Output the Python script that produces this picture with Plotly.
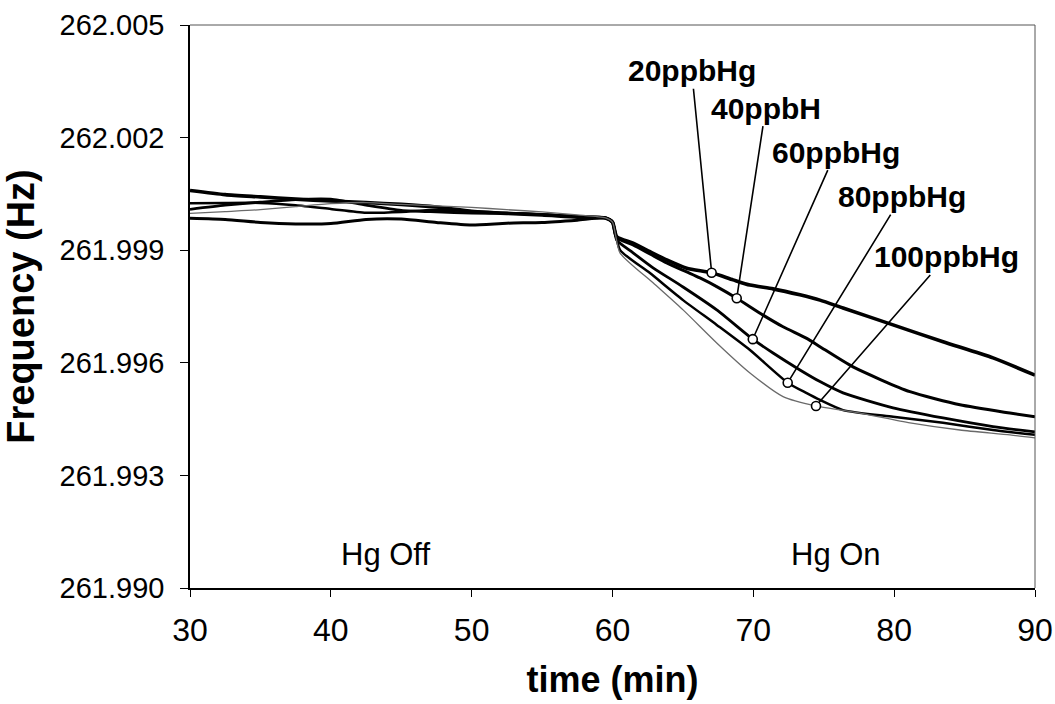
import plotly.graph_objects as go

# Shared time base for the baseline part of the run (Hg off), minutes
pre_time = [30, 32.5, 35, 37.5, 40, 42.5, 45, 47.5, 50, 52.5, 55, 57.5, 59.5, 60.0]

# Baseline frequency (Hz) for each concentration
hg20_pre = [262.00059, 262.00048, 262.00042, 262.00036, 262.00031, 262.00027, 262.00022,
            262.00015, 262.00004, 261.99998, 261.99994, 261.99988, 261.99986, 261.99975]
hg40_pre = [261.99985, 261.99982, 261.99974, 261.99970, 261.99971, 261.99982, 261.99983,
            261.99974, 261.99967, 261.99972, 261.99974, 261.99980, 261.99986, 261.99975]
hg60_pre = [262.00009, 262.00020, 262.00028, 262.00035, 262.00036, 262.00020, 262.00006,
            262.00002, 261.99999, 261.99998, 261.99995, 261.99990, 261.99986, 261.99975]
hg80_pre = [262.00025, 262.00026, 262.00026, 262.00020, 262.00010, 262.00000, 262.00002,
            262.00008, 262.00004, 261.99999, 261.99995, 261.99990, 261.99986, 261.99975]
hg100_pre = [261.99998, 262.00003, 262.00008, 262.00016, 262.00024, 262.00027, 262.00022,
             262.00018, 262.00014, 262.00008, 262.00002, 261.99994, 261.99986, 261.99975]

# Response after Hg is switched on
hg20_time = [60.30, 61.46, 62.66, 63.85, 65.27, 67.04, 68.56, 69.76, 71.40, 73.31, 74.73,
             76.37, 79.92, 83.47, 87.02, 90.0]
hg20_freq = [261.99936, 261.99919, 261.99896, 261.99874, 261.99852, 261.99840, 261.99821,
             261.99807, 261.99797, 261.99781, 261.99767, 261.99746, 261.99701, 261.99656,
             261.99613, 261.99567]

hg40_time = [60.30, 61.46, 62.66, 63.85, 65.27, 66.21, 67.40, 68.82, 70.69, 72.11, 73.79,
             74.73, 77.08, 81.12, 84.67, 88.22, 90.0]
hg40_freq = [261.99933, 261.99914, 261.99890, 261.99866, 261.99842, 261.99826, 261.99803,
             261.99772, 261.99727, 261.99696, 261.99665, 261.99643, 261.99589, 261.99523,
             261.99488, 261.99466, 261.99456]

hg60_time = [60.30, 61.46, 62.88, 65.01, 67.40, 69.96, 71.40, 73.31, 74.73, 76.37, 79.92,
             83.47, 87.02, 90.0]
hg60_freq = [261.99927, 261.99893, 261.99853, 261.99802, 261.99741, 261.99663, 261.99626,
             261.99581, 261.99550, 261.99520, 261.99480, 261.99453, 261.99430, 261.99416]

hg80_time = [60.53, 62.66, 65.01, 67.40, 69.76, 72.44, 73.79, 74.73, 76.37, 79.92, 83.47,
             87.02, 90.0]
hg80_freq = [261.99901, 261.99839, 261.99767, 261.99701, 261.99634, 261.99547, 261.99519,
             261.99501, 261.99474, 261.99456, 261.99440, 261.99421, 261.99408]

hg100_time = [60.53, 62.88, 65.01, 67.40, 69.76, 72.11, 74.45, 77.57, 81.12, 84.67, 88.22, 90.0]
hg100_freq = [261.99893, 261.99813, 261.99741, 261.99653, 261.99573, 261.99510, 261.99485,
              261.99466, 261.99440, 261.99421, 261.99408, 261.99400]

# Labelled points on each curve
label_text = ["20ppbHg", "40ppbH", "60ppbHg", "80ppbHg", "100ppbHg"]
label_time = [67.04, 68.82, 69.96, 72.44, 74.45]
label_freq = [261.99840, 261.99772, 261.99663, 261.99547, 261.99485]

y_ticks = [261.990, 261.993, 261.996, 261.999, 262.002, 262.005]
x_ticks = [30, 40, 50, 60, 70, 80, 90]

FONT = "Liberation Sans, Arial, sans-serif"

series = [
    (hg20_pre, hg20_time, hg20_freq, "black", 3.6),
    (hg40_pre, hg40_time, hg40_freq, "black", 3.0),
    (hg60_pre, hg60_time, hg60_freq, "black", 2.8),
    (hg80_pre, hg80_time, hg80_freq, "black", 2.5),
    (hg100_pre, hg100_time, hg100_freq, "#6a6a6a", 1.3),
]

fig = go.Figure()
for pre, t_on, f_on, color, width in series:
    fig.add_trace(go.Scatter(
        x=pre_time + t_on, y=pre + f_on, mode="lines",
        line=dict(color=color, width=width, shape="spline", smoothing=0.6),
        showlegend=False, hoverinfo="skip"))

fig.add_trace(go.Scatter(
    x=label_time, y=label_freq, mode="markers",
    marker=dict(symbol="circle", size=9, color="white", line=dict(color="black", width=1.6)),
    showlegend=False, hoverinfo="skip"))

# Leader lines from the labels down to the marked points (pixel offsets of the text)
offsets = [(-20, -202), (29, -190), (83, -187), (114, -186), (130, -149)]
for txt, t, f, (ax, ay) in zip(label_text, label_time, label_freq, offsets):
    fig.add_annotation(
        x=t, y=f, text="<b>%s</b>" % txt, showarrow=True, arrowhead=0, arrowwidth=1.6,
        arrowcolor="black", ax=ax, ay=ay, standoff=4.5,
        font=dict(family=FONT, size=30, color="black"))

fig.add_annotation(x=43.9, y=261.9909, text="Hg Off", showarrow=False,
                   font=dict(family=FONT, size=31, color="black"))
fig.add_annotation(x=75.9, y=261.9909, text="Hg On", showarrow=False,
                   font=dict(family=FONT, size=31, color="black"))

# Thin top/right frame
fig.add_shape(type="line", xref="paper", yref="paper", x0=0, y0=1, x1=1, y1=1,
              line=dict(color="#555555", width=1))
fig.add_shape(type="line", xref="paper", yref="paper", x0=1, y0=0, x1=1, y1=1,
              line=dict(color="#555555", width=1))

fig.update_xaxes(
    range=[30, 90], tickvals=x_ticks, showline=True, linecolor="black", linewidth=1.5,
    ticks="outside", ticklen=7, tickcolor="black", tickwidth=1, showgrid=False, zeroline=False,
    ticklabelstandoff=6, automargin=False,
    tickfont=dict(family=FONT, size=32, color="black"),
    title=dict(text="<b>time (min)</b>", standoff=20,
               font=dict(family=FONT, size=36, color="black")))
fig.update_yaxes(
    range=[261.990, 262.005], tickvals=y_ticks, tickformat=".3f", showline=True,
    linecolor="black", linewidth=1.5, ticks="outside", ticklen=8, tickcolor="black", tickwidth=1,
    showgrid=False, zeroline=False, ticklabelstandoff=10, automargin=False,
    tickfont=dict(family=FONT, size=29, color="black"),
    title=dict(text="<b>Frequency (Hz)</b>", standoff=14,
               font=dict(family=FONT, size=38, color="black")))

fig.update_layout(
    width=1055, height=704, margin=dict(l=190, r=20, t=25, b=116, autoexpand=False),
    paper_bgcolor="white", plot_bgcolor="white")

fig.write_html("out.html")
